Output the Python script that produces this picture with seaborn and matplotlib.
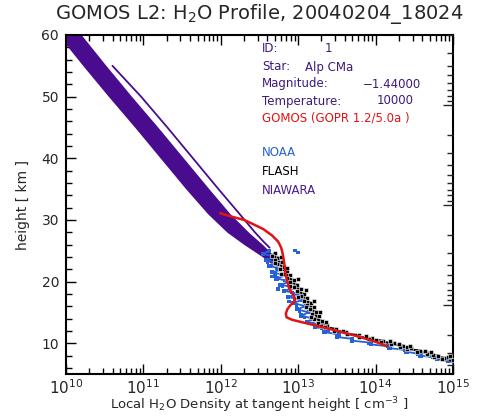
import numpy as np
import pandas as pd
import matplotlib
matplotlib.use("Agg")
import matplotlib.pyplot as plt
import seaborn as sns
from matplotlib.ticker import MultipleLocator, LogLocator, NullFormatter

# ---------------- data (log10 of density in cm^-3, height in km) ----------------
band_km     = [60, 55, 50, 45, 40, 35, 31, 28, 26, 24, 23]
band_lo_log = [9.90, 10.22, 10.55, 10.89, 11.22, 11.55, 11.83, 12.08, 12.30, 12.54, 12.64]
band_hi_log = [10.20, 10.52, 10.85, 11.19, 11.52, 11.85, 12.12, 12.36, 12.54, 12.70, 12.76]

thin_km  = [55, 50, 45, 40, 35, 31, 28, 26.5, 25.5]
thin_log = [10.60, 10.97, 11.31, 11.64, 11.97, 12.24, 12.44, 12.55, 12.63]

gomos_km  = [31.1, 30.5, 30.0, 29.3, 28.5, 27.5, 26.5, 25.5, 24.5, 23.0, 21.0, 19.0, 17.5,
             16.8, 16.2, 15.5, 14.8, 14.2, 13.8, 13.4, 13.0, 12.5, 12.0, 11.5, 11.0, 10.5,
             10.0, 9.5]
gomos_log = [11.99, 12.15, 12.30, 12.42, 12.55, 12.66, 12.74, 12.78, 12.80, 12.82, 12.84,
             12.88, 12.95, 12.96, 12.90, 12.86, 12.84, 12.85, 12.92, 13.05, 13.18, 13.35,
             13.50, 13.65, 13.80, 13.93, 14.05, 14.15]

flash_km = [24.6, 24.2, 23.9, 23.5, 23.1, 22.8, 22.4, 22.0, 21.7, 21.3, 21.0, 20.6, 20.2,
            19.9, 19.5, 19.1, 18.8, 18.4, 18.0, 17.7, 17.3, 16.9, 16.6, 16.2, 15.8, 15.5,
            15.1, 14.7, 14.4, 14.0, 13.6, 13.3, 12.9, 12.6, 12.3, 12.0, 11.8, 11.5, 11.3,
            11.0, 10.8, 10.6, 10.4, 10.2, 10.0, 9.8, 9.6, 9.4, 9.2, 9.0, 8.8, 8.6, 8.4,
            8.2, 8.0, 7.8, 7.6, 7.4, 7.2]
flash_log = [12.70, 12.66, 12.74, 12.70, 12.79, 12.73, 12.82, 12.77, 12.86, 12.81, 12.90,
             12.85, 12.95, 12.90, 12.99, 12.94, 13.04, 12.99, 13.08, 13.03, 13.12, 13.07,
             13.16, 13.11, 13.20, 13.15, 13.23, 13.18, 13.27, 13.21, 13.31, 13.26, 13.37,
             13.34, 13.49, 13.46, 13.62, 13.63, 13.78, 13.78, 13.95, 13.92, 14.10, 14.07,
             14.24, 14.20, 14.36, 14.31, 14.46, 14.41, 14.58, 14.54, 14.71, 14.66, 14.81,
             14.76, 14.91, 14.86, 15.00]
flash_extra_km  = [24.0, 23.0, 22.2, 21.2, 20.4, 19.3, 18.6, 17.5, 16.8, 15.9, 15.0, 14.2,
                   13.5, 12.8, 11.9, 11.1, 10.5, 9.9, 9.3, 8.7, 8.1, 7.7, 7.9, 8.5, 9.6, 10.3]
flash_extra_log = [12.78, 12.70, 12.86, 12.78, 13.00, 12.90, 13.10, 13.00, 13.20, 13.10,
                   13.28, 13.16, 13.36, 13.30, 13.58, 13.88, 14.00, 14.30, 14.40, 14.64,
                   14.74, 14.94, 14.96, 14.72, 14.44, 14.18]

noaa_km = [25.0, 24.5, 24.0, 23.5, 23.0, 22.5, 22.0, 21.5, 21.0, 20.5, 20.0, 19.5, 19.0,
           18.5, 18.0, 17.5, 17.0, 16.5, 16.0, 15.5, 15.0, 14.5, 14.0, 13.5, 13.0, 12.6,
           12.2, 11.8, 11.4, 11.0, 10.7, 10.4, 10.1, 9.8, 9.5, 9.2, 8.9, 8.6, 8.3, 8.0,
           7.7, 7.4, 7.1, 6.8]
noaa_log = [12.62, 12.55, 12.70, 12.58, 12.74, 12.63, 12.80, 12.66, 12.84, 12.72, 12.90,
            12.77, 12.95, 12.82, 13.00, 12.87, 13.05, 12.93, 13.10, 12.98, 13.14, 13.04,
            13.18, 13.12, 13.28, 13.22, 13.38, 13.34, 13.53, 13.50, 13.70, 13.70, 13.92,
            13.94, 14.16, 14.18, 14.38, 14.40, 14.55, 14.58, 14.74, 14.79, 14.94, 15.02]
noaa_extra_km  = [25.0, 24.7, 24.2, 23.2, 22.2, 21.2, 20.2, 19.2, 18.2, 17.2, 16.2, 15.2,
                  14.2, 13.2, 12.4, 16.8, 18.8, 20.8]
noaa_extra_log = [12.96, 13.00, 12.66, 12.60, 12.72, 12.70, 12.82, 12.80, 12.92, 12.95,
                  12.98, 13.02, 13.08, 13.18, 13.30, 12.88, 12.74, 12.66]

info_labels = ["ID:", "Star:", "Magnitude:", "Temperature:"]
info_values = ["1", "Alp CMa", "\u22121.44000", "10000"]
legend_names = ["NOAA", "FLASH", "NIAWARA"]

xtick_exp = [10, 11, 12, 13, 14, 15]
ytick_km = [10, 20, 30, 40, 50, 60]

# ---------------- styling ----------------
sns.set_style("white")
plt.rcParams["font.family"] = ["DejaVu Sans"]
PURPLE = "#4a0c8f"
TXT_PURPLE = "#3d1a7a"
BLUE = "#2563d4"
RED = "#e01414"

W, H = 487, 418
fig = plt.figure(figsize=(W / 100, H / 100), dpi=100)
L, R, T, B = 66, 453, 35, 374
ax = fig.add_axes([L / W, 1 - B / H, (R - L) / W, (B - T) / H])

def tolin(a):
    return 10 ** np.array(a)

# purple band + thin line
ax.fill_betweenx(band_km, tolin(band_lo_log), tolin(band_hi_log), color=PURPLE, lw=0, zorder=2)
df_thin = pd.DataFrame({"x": tolin(thin_log), "y": thin_km})
sns.lineplot(data=df_thin, x="x", y="y", sort=False, estimator=None, color=PURPLE,
             lw=1.3, ax=ax, zorder=2)

# NOAA (blue)
df_noaa = pd.DataFrame({"x": tolin(noaa_log), "y": noaa_km})
sns.lineplot(data=df_noaa, x="x", y="y", sort=False, estimator=None, color=BLUE,
             lw=1.3, ax=ax, zorder=3)
sns.scatterplot(data=df_noaa, x="x", y="y", marker="s", s=9, color=BLUE,
                edgecolor="none", ax=ax, zorder=3)
df_noaa_x = pd.DataFrame({"x": tolin(noaa_extra_log), "y": noaa_extra_km})
sns.scatterplot(data=df_noaa_x, x="x", y="y", marker="s", s=6, color=BLUE,
                edgecolor="none", ax=ax, zorder=3)

# FLASH (black)
df_flash = pd.DataFrame({"x": tolin(flash_log), "y": flash_km})
sns.lineplot(data=df_flash, x="x", y="y", sort=False, estimator=None, color="black",
             lw=1.6, ax=ax, zorder=4)
sns.scatterplot(data=df_flash, x="x", y="y", marker="s", s=10, color="black",
                edgecolor="white", linewidth=0.4, ax=ax, zorder=4)
df_flash_x = pd.DataFrame({"x": tolin(flash_extra_log), "y": flash_extra_km})
sns.scatterplot(data=df_flash_x, x="x", y="y", marker="s", s=9, color="black",
                edgecolor="white", linewidth=0.4, ax=ax, zorder=4)

# GOMOS (red)
df_gomos = pd.DataFrame({"x": tolin(gomos_log), "y": gomos_km})
sns.lineplot(data=df_gomos, x="x", y="y", sort=False, estimator=None, color=RED,
             lw=1.8, ax=ax, zorder=5)

ax.set_xscale("log")
ax.set_xlim(1e10, 1e15)
ax.set_ylim(5, 60)
ax.set_xticks([10.0 ** e for e in xtick_exp])
ax.set_xticklabels([r"$10^{%d}$" % e for e in xtick_exp], fontsize=11)
ax.xaxis.set_minor_locator(LogLocator(base=10, subs=np.arange(2, 10), numticks=20))
ax.xaxis.set_minor_formatter(NullFormatter())
ax.set_yticks(ytick_km)
ax.set_yticklabels([str(v) for v in ytick_km], fontsize=10)
ax.yaxis.set_minor_locator(MultipleLocator(2))
ax.tick_params(which="both", direction="in", top=True, right=False, bottom=True, left=True,
               width=1.0, color="black")
ax.tick_params(which="major", length=7, pad=5)
ax.tick_params(axis="x", which="major", pad=3)
ax.tick_params(which="minor", length=4)
ax.set_xlabel(r"Local H$_2$O Density at tangent height [ cm$^{-3}$ ]", fontsize=9.5,
              va="center")
ax.xaxis.set_label_coords(0.5, (B - 405) / (B - T))
ax.set_ylabel("height [ km ]", fontsize=10, labelpad=8)
for s in ax.spines.values():
    s.set_visible(True)
    s.set_color("black")
    s.set_linewidth(1.5)

# right axis: pressure-like log scale ticks (no labels)
ax2 = ax.twinx()
p0, sc = 1000.0, 16.2
ax2.set_yscale("log")
ax2.set_ylim(p0 * 10 ** (-5 / sc), p0 * 10 ** (-60 / sc))
ax2.yaxis.set_major_locator(LogLocator(base=10, numticks=10))
ax2.yaxis.set_minor_locator(LogLocator(base=10, subs=np.arange(2, 10), numticks=20))
ax2.yaxis.set_major_formatter(NullFormatter())
ax2.yaxis.set_minor_formatter(NullFormatter())
ax2.tick_params(which="both", direction="in", right=True, left=False, width=1.0)
ax2.tick_params(which="major", length=7)
ax2.tick_params(which="minor", length=4)
for s in ax2.spines.values():
    s.set_visible(False)

# title
fig.text(259 / W, 1 - 14 / H, r"GOMOS L2: H$_2$O Profile, 20040204_18024",
         ha="center", va="center", fontsize=14)

# info block
rows_y = [49, 67, 84, 101]
val_x = [325, 305, 363, 377]
for lab, val, yy, vx in zip(info_labels, info_values, rows_y, val_x):
    fig.text(262 / W, 1 - yy / H, lab, ha="left", va="center", fontsize=8.5, color=TXT_PURPLE)
    fig.text(vx / W, 1 - yy / H, val, ha="left", va="center", fontsize=8.5, color=TXT_PURPLE)
fig.text(262 / W, 1 - 118 / H, "GOMOS (GOPR 1.2/5.0a )", ha="left", va="center",
         fontsize=8.5, color=RED)

leg_colors = [BLUE, "black", "#4a1a8a"]
for name, c, yy in zip(legend_names, leg_colors, [153, 172, 190]):
    fig.text(262 / W, 1 - yy / H, name, ha="left", va="center", fontsize=8.5, color=c)

fig.savefig("out.png", dpi=100)
